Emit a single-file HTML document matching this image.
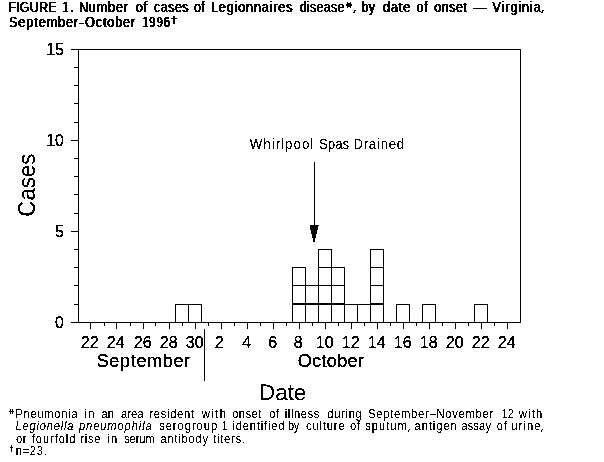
<!DOCTYPE html>
<html><head><meta charset="utf-8"><title>Figure 1</title>
<style>
html,body{margin:0;padding:0;background:#fff;}
body{width:604px;height:462px;overflow:hidden;}
svg{display:block;font-family:"Liberation Sans",sans-serif;fill:#000;}
</style></head><body>
<svg width="604" height="462" viewBox="0 0 604 462">
<rect width="604" height="462" fill="#fff"/>
<g shape-rendering="crispEdges" stroke="#000" stroke-width="1" fill="none">
<path d="M78.5 49.5V322.5"/>
<path d="M71 49.5H521"/>
<path d="M520.5 49.5V322.5"/>
<path d="M71 322.5H521"/>
<path d="M74 304.5H79"/>
<path d="M74 285.5H79"/>
<path d="M74 267.5H79"/>
<path d="M74 249.5H79"/>
<path d="M71 231.5H79"/>
<path d="M74 213.5H79"/>
<path d="M74 194.5H79"/>
<path d="M74 176.5H79"/>
<path d="M74 158.5H79"/>
<path d="M71 140.5H79"/>
<path d="M74 122.5H79"/>
<path d="M74 103.5H79"/>
<path d="M74 85.5H79"/>
<path d="M74 67.5H79"/>
<path d="M90.5 322V329"/>
<path d="M104.5 322V326"/>
<path d="M116.5 322V329"/>
<path d="M130.5 322V326"/>
<path d="M143.5 322V329"/>
<path d="M155.5 322V326"/>
<path d="M169.5 322V329"/>
<path d="M182.5 322V326"/>
<path d="M195.5 322V329"/>
<path d="M208.5 322V326"/>
<path d="M221.5 322V329"/>
<path d="M234.5 322V326"/>
<path d="M247.5 322V329"/>
<path d="M260.5 322V326"/>
<path d="M273.5 322V329"/>
<path d="M286.5 322V326"/>
<path d="M299.5 322V329"/>
<path d="M312.5 322V326"/>
<path d="M325.5 322V329"/>
<path d="M338.5 322V326"/>
<path d="M351.5 322V329"/>
<path d="M364.5 322V326"/>
<path d="M377.5 322V329"/>
<path d="M390.5 322V326"/>
<path d="M403.5 322V329"/>
<path d="M416.5 322V326"/>
<path d="M429.5 322V329"/>
<path d="M442.5 322V326"/>
<path d="M455.5 322V329"/>
<path d="M468.5 322V326"/>
<path d="M481.5 322V329"/>
<path d="M494.5 322V326"/>
<path d="M507.5 322V329"/>
<path d="M175.5 322.5V304.5H188.5V322.5"/>
<path d="M188.5 322.5V304.5H201.5V322.5"/>
<path d="M292.5 322.5V304.5H305.5V322.5"/>
<path d="M292.5 304.5V285.5H305.5V304.5"/>
<path d="M292.5 285.5V267.5H305.5V285.5"/>
<path d="M292.0 303.5H306.0"/>
<path d="M305.5 322.5V304.5H318.5V322.5"/>
<path d="M305.5 304.5V285.5H318.5V304.5"/>
<path d="M305.0 303.5H319.0"/>
<path d="M318.5 322.5V304.5H331.5V322.5"/>
<path d="M318.5 304.5V285.5H331.5V304.5"/>
<path d="M318.5 285.5V267.5H331.5V285.5"/>
<path d="M318.5 267.5V249.5H331.5V267.5"/>
<path d="M318.0 303.5H332.0"/>
<path d="M331.5 322.5V304.5H344.5V322.5"/>
<path d="M331.5 304.5V285.5H344.5V304.5"/>
<path d="M331.5 285.5V267.5H344.5V285.5"/>
<path d="M331.0 303.5H345.0"/>
<path d="M344.5 322.5V304.5H357.5V322.5"/>
<path d="M357.5 322.5V304.5H370.5V322.5"/>
<path d="M370.5 322.5V304.5H383.5V322.5"/>
<path d="M370.5 304.5V285.5H383.5V304.5"/>
<path d="M370.5 285.5V267.5H383.5V285.5"/>
<path d="M370.5 267.5V249.5H383.5V267.5"/>
<path d="M370.0 303.5H384.0"/>
<path d="M396.5 322.5V304.5H409.5V322.5"/>
<path d="M422.5 322.5V304.5H435.5V322.5"/>
<path d="M474.5 322.5V304.5H487.5V322.5"/>
<path d="M204.5 329V381"/>
<path d="M314.5 162V226"/>
</g>
<path d="M310 225h9v1h-1v4h-1v4h-1v4h-1v4h-2v-4h-1v-4h-1v-4h-1z" fill="#000" shape-rendering="crispEdges"/>
<path d="M347 2h1v6h-1zM350 2h1v6h-1zM347 3h4v4h-4zM346 4h6v2h-6zM173 16h2v8h-2zM171 18h6v1h-6zM71 10h2v2h-2zM473 8h14v1h-14zM79 23h5v1h-5zM354 10h2v1h-2zM354 11h1v1h-1zM353 12h2v1h-2zM542 10h2v1h-2zM542 11h1v1h-1zM541 12h2v1h-2zM409 429h1v1h-1zM408 430h1v2h-1zM542 429h1v1h-1zM541 430h1v2h-1zM10 409h1v5h-1zM12 409h1v5h-1zM9 411h5v1h-5zM11 445h1v7h-1zM10 447h3v1h-3z" fill="#000" shape-rendering="crispEdges"/>
<defs>
<filter id="th" x="0" y="0" width="604" height="462" filterUnits="userSpaceOnUse" color-interpolation-filters="sRGB">
<feComponentTransfer><feFuncA type="discrete" tableValues="0 0 0 0 0 0 1 1 1 1 1 1 1 1 1 1 1 1 1 1"/></feComponentTransfer>
</filter>
<filter id="ths" x="0" y="0" width="604" height="462" filterUnits="userSpaceOnUse" color-interpolation-filters="sRGB">
<feComponentTransfer><feFuncA type="discrete" tableValues="0 0 0 0 0 0 0 0 0 1 1 1 1 1 1 1 1 1 1 1"/></feComponentTransfer>
</filter>
<filter id="thb" x="0" y="0" width="604" height="462" filterUnits="userSpaceOnUse" color-interpolation-filters="sRGB">
<feComponentTransfer result="a"><feFuncA type="discrete" tableValues="0 0 0 0 0 0 0 0 0 0 1 1 1 1 1 1 1 1 1 1"/></feComponentTransfer>
<feOffset in="a" dx="1" dy="0" result="b"/>
<feMerge><feMergeNode in="a"/><feMergeNode in="b"/></feMerge>
</filter>
</defs>
<g filter="url(#th)">
<rect x="0" y="0" width="604" height="462" fill="#000" fill-opacity="0.02"/>
<text x="64" y="55" font-size="16" text-anchor="end" font-weight="normal">15</text>
<text x="64" y="146" font-size="16" text-anchor="end" font-weight="normal">10</text>
<text x="64" y="237" font-size="16" text-anchor="end" font-weight="normal">5</text>
<text x="64" y="328" font-size="16" text-anchor="end" font-weight="normal">0</text>
<text x="89.7" y="348" font-size="16" text-anchor="middle" font-weight="normal">22</text>
<text x="115.7" y="348" font-size="16" text-anchor="middle" font-weight="normal">24</text>
<text x="142.7" y="348" font-size="16" text-anchor="middle" font-weight="normal">26</text>
<text x="168.7" y="348" font-size="16" text-anchor="middle" font-weight="normal">28</text>
<text x="194.7" y="348" font-size="16" text-anchor="middle" font-weight="normal">30</text>
<text x="219.2" y="348" font-size="16" text-anchor="middle" font-weight="normal">2</text>
<text x="246.7" y="348" font-size="16" text-anchor="middle" font-weight="normal">4</text>
<text x="272.7" y="348" font-size="16" text-anchor="middle" font-weight="normal">6</text>
<text x="298.2" y="348" font-size="16" text-anchor="middle" font-weight="normal">8</text>
<text x="324.7" y="348" font-size="16" text-anchor="middle" font-weight="normal">10</text>
<text x="350.7" y="348" font-size="16" text-anchor="middle" font-weight="normal">12</text>
<text x="376.7" y="348" font-size="16" text-anchor="middle" font-weight="normal">14</text>
<text x="402.7" y="348" font-size="16" text-anchor="middle" font-weight="normal">16</text>
<text x="428.7" y="348" font-size="16" text-anchor="middle" font-weight="normal">18</text>
<text x="454.7" y="348" font-size="16" text-anchor="middle" font-weight="normal">20</text>
<text x="480.7" y="348" font-size="16" text-anchor="middle" font-weight="normal">22</text>
<text x="506.7" y="348" font-size="16" text-anchor="middle" font-weight="normal">24</text>
<text transform="translate(96.70,367)" font-size="18" letter-spacing="0.669">September</text>
<text transform="translate(297.70,367)" font-size="18" letter-spacing="0.358">October</text>
</g>
<g filter="url(#ths)">
<rect x="0" y="0" width="604" height="462" fill="#000" fill-opacity="0.02"/>
<text transform="translate(15.47,418) scale(0.9300,1)" font-size="12.0" letter-spacing="0.744">Pneumonia</text>
<text transform="translate(84.60,418) scale(0.9300,1)" font-size="12.0" letter-spacing="1.175">in</text>
<text transform="translate(101.44,418) scale(0.9300,1)" font-size="12.0" letter-spacing="0.151">an</text>
<text transform="translate(121.03,418) scale(0.9300,1)" font-size="12.0" letter-spacing="0.016">area</text>
<text transform="translate(149.40,418) scale(0.9300,1)" font-size="12.0" letter-spacing="0.759">resident</text>
<text transform="translate(201.70,418) scale(0.9300,1)" font-size="12.0" letter-spacing="1.554">with</text>
<text transform="translate(232.13,418) scale(0.9300,1)" font-size="12.0" letter-spacing="0.528">onset</text>
<text transform="translate(269.14,418) scale(0.9300,1)" font-size="12.0" letter-spacing="0.823">of</text>
<text transform="translate(284.80,418) scale(0.9300,1)" font-size="12.0" letter-spacing="0.629">illness</text>
<text transform="translate(327.34,418) scale(0.9300,1)" font-size="12.0" letter-spacing="0.740">during</text>
<text transform="translate(368.14,418) scale(0.9300,1)" font-size="12.0" letter-spacing="0.810">September–November</text>
<text transform="translate(501.70,418) scale(0.9021,1)" font-size="12.0">12</text>
<text transform="translate(518.70,418) scale(0.9300,1)" font-size="12.0" letter-spacing="1.303">with</text>
<text transform="translate(15.44,430.2) scale(0.9300,1)" font-size="12.0" font-style="italic" letter-spacing="0.850">Legionella</text>
<text transform="translate(79.03,430.2) scale(0.9300,1)" font-size="12.0" font-style="italic" letter-spacing="0.946">pneumophila</text>
<text transform="translate(159.13,430.2) scale(0.9300,1)" font-size="12.0" letter-spacing="1.050">serogroup</text>
<text transform="translate(222.24,430.2) scale(0.7600,1)" font-size="12.0">1</text>
<text transform="translate(232.40,430.2) scale(0.9300,1)" font-size="12.0" letter-spacing="0.903">identified</text>
<text transform="translate(288.16,430.2) scale(0.8596,1)" font-size="12.0">by</text>
<text transform="translate(305.94,430.2) scale(0.9300,1)" font-size="12.0" letter-spacing="0.941">culture</text>
<text transform="translate(350.04,430.2) scale(0.9300,1)" font-size="12.0" letter-spacing="0.715">of</text>
<text transform="translate(365.14,430.2) scale(0.9300,1)" font-size="12.0" letter-spacing="1.110">sputum</text>
<text transform="translate(414.54,430.2) scale(0.9300,1)" font-size="12.0" letter-spacing="1.014">antigen</text>
<text transform="translate(461.14,430.2) scale(0.9300,1)" font-size="12.0" letter-spacing="0.216">assay</text>
<text transform="translate(496.84,430.2) scale(0.9300,1)" font-size="12.0" letter-spacing="0.823">of</text>
<text transform="translate(511.20,430.2) scale(0.9300,1)" font-size="12.0" letter-spacing="1.206">urine</text>
<text transform="translate(15.93,442.5) scale(0.9300,1)" font-size="12.0" letter-spacing="0.538">or</text>
<text transform="translate(31.77,442.5) scale(0.9300,1)" font-size="12.0" letter-spacing="0.988">fourfold</text>
<text transform="translate(80.30,442.5) scale(0.9300,1)" font-size="12.0" letter-spacing="0.774">rise</text>
<text transform="translate(107.50,442.5) scale(0.9300,1)" font-size="12.0" letter-spacing="1.175">in</text>
<text transform="translate(124.14,442.5) scale(0.9125,1)" font-size="12.0">serum</text>
<text transform="translate(160.44,442.5) scale(0.9300,1)" font-size="12.0" letter-spacing="0.827">antibody</text>
<text transform="translate(213.27,442.5) scale(0.9300,1)" font-size="12.0" letter-spacing="0.781">titers.</text>
<text transform="translate(15.70,455) scale(0.9300,1)" font-size="12.0" letter-spacing="0.778">n=23.</text>
<text transform="translate(249.76,149) scale(0.9500,1)" font-size="14" letter-spacing="1.067">Whirlpool</text>
<text transform="translate(319.10,149) scale(0.9398,1)" font-size="14">Spas</text>
<text transform="translate(353.41,149) scale(0.9500,1)" font-size="14" letter-spacing="0.752">Drained</text>
<text transform="translate(259.01,400) scale(0.9955,1) rotate(0.03)" font-size="22.5">Date</text>
<text transform="translate(34.8,185.2) rotate(-90) scale(0.965,1)" font-size="23.0" text-anchor="middle">Cases</text>
</g>
<g filter="url(#thb)">
<rect x="0" y="0" width="604" height="462" fill="#000" fill-opacity="0.02"/>
<text transform="translate(7.88,12) scale(0.9000,1)" font-size="14.0" letter-spacing="0.133">FIGURE</text>
<text transform="translate(62.28,12) scale(0.7167,1)" font-size="14.0">1</text>
<text transform="translate(78.38,12) scale(0.9000,1)" font-size="14.0" letter-spacing="0.972">Number</text>
<text transform="translate(135.35,12) scale(0.9000,1)" font-size="14.0" letter-spacing="0.750">of</text>
<text transform="translate(153.55,12) scale(0.9000,1)" font-size="14.0" letter-spacing="0.486">cases</text>
<text transform="translate(193.55,12) scale(0.9000,1)" font-size="14.0" letter-spacing="0.194">of</text>
<text transform="translate(210.47,12) scale(0.9000,1)" font-size="14.0" letter-spacing="0.955">Legionnaires</text>
<text transform="translate(299.15,12) scale(0.9000,1)" font-size="14.0" letter-spacing="0.292">disease</text>
<text transform="translate(361.10,12) scale(0.9000,1)" font-size="14.0" letter-spacing="0.250">by</text>
<text transform="translate(382.45,12) scale(0.9000,1)" font-size="14.0" letter-spacing="1.037">date</text>
<text transform="translate(415.95,12) scale(0.9000,1)" font-size="14.0" letter-spacing="0.861">of</text>
<text transform="translate(433.85,12) scale(0.9000,1)" font-size="14.0" letter-spacing="0.507">onset</text>
<text transform="translate(492.07,12) scale(0.9000,1)" font-size="14.0" letter-spacing="1.012">Virginia</text>
<text transform="translate(8.42,27) scale(0.9000,1)" font-size="14.0" letter-spacing="1.076">September</text>
<text transform="translate(84.62,27) scale(0.9000,1)" font-size="14.0" letter-spacing="0.986">October</text>
<text transform="translate(141.70,27) scale(0.8000,1)" font-size="14.0" letter-spacing="1.167">1996</text>
</g>
</svg>
</body></html>
